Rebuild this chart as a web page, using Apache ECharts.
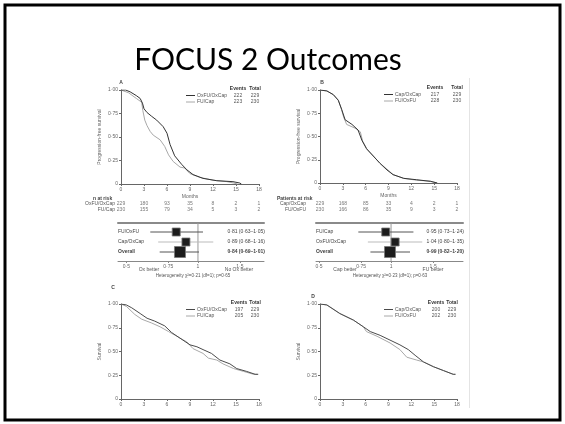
<!DOCTYPE html>
<html><head><meta charset="utf-8">
<script src="https://cdn.jsdelivr.net/npm/echarts@6/dist/echarts.min.js"></script>
<style>html,body{margin:0;padding:0;background:#fff}#c{width:565px;height:424px}</style>
</head><body><div id="c"></div>
<script>
// ---------- DATA ----------
const monthTicks = [0, 3, 6, 9, 12, 15, 18];
const hrTicks = [0.5, 0.75, 1, 1.5];
const hrTickLabels = ['0·5', '0·75', '1', '1·5'];

// A: progression-free survival, oxaliplatin comparison
const pfsA_ox = [[0,1],[0.6,1],[1.2,0.98],[2.0,0.94],[2.5,0.91],[2.8,0.86],[3.0,0.80],[3.4,0.76],[4.0,0.72],[4.65,0.68],[5.5,0.61],[6.0,0.54],[6.4,0.42],[7.0,0.30],[7.9,0.21],[8.6,0.15],[9.4,0.10],[10.7,0.06],[12.5,0.035],[14.6,0.025],[15.5,0.01],[15.7,0]];
const pfsA_fu = [[0,1],[1,0.97],[2,0.91],[2.7,0.87],[2.85,0.78],[3.1,0.68],[3.4,0.62],[3.8,0.56],[4.2,0.52],[5.1,0.47],[5.7,0.40],[6.2,0.31],[6.8,0.24],[7.7,0.18],[8.3,0.17],[9.0,0.11],[10.3,0.07],[12.0,0.04],[13.8,0.025],[14.7,0.01],[15.2,0]];
const legA_names = ['OxFU/OxCap', 'FU/Cap'];
const legA_events = [222, 223];
const legA_total = [229, 230];
const riskA_rows = ['OxFU/OxCap', 'FU/Cap'];
const riskA_ox = [229, 180, 93, 35, 8, 2, 1];
const riskA_fu = [230, 155, 79, 34, 5, 3, 2];

// B: progression-free survival, capecitabine comparison
const pfsB_cap = [[0,1],[0.9,0.99],[1.75,0.95],[2.4,0.89],[2.85,0.79],[3.3,0.68],[4.2,0.63],[5.0,0.57],[5.5,0.46],[6.1,0.37],[7.0,0.29],[7.9,0.21],[8.8,0.14],[9.6,0.09],[11,0.05],[12.7,0.035],[14.5,0.018],[15.4,0]];
const pfsB_fu = [[0,1],[0.9,0.99],[1.75,0.95],[2.4,0.89],[2.8,0.80],[3.1,0.71],[3.5,0.63],[4.6,0.59],[5.3,0.55],[5.6,0.45],[6.2,0.36],[7.0,0.29],[7.9,0.21],[8.8,0.15],[9.6,0.09],[11,0.05],[12.7,0.03],[14.5,0.02],[15.4,0]];
const legB_names = ['Cap/OxCap', 'FU/OxFU'];
const legB_events = [217, 228];
const legB_total = [229, 230];
const riskB_rows = ['Cap/OxCap', 'FU/OxFU'];
const riskB_cap = [229, 168, 85, 33, 4, 2, 1];
const riskB_fu = [230, 166, 86, 35, 9, 3, 2];

// Forest plots
const forestA_labels = ['FU/OxFU', 'Cap/OxCap', 'Overall'];
const forestA_hr = [0.81, 0.89, 0.84];
const forestA_lo = [0.63, 0.68, 0.69];
const forestA_hi = [1.05, 1.16, 1.01];
const forestA_notes = ['Ox better', 'No Ox better', 'Heterogeneity χ²=0·21 (df=1); p=0·65'];
const forestB_labels = ['FU/Cap', 'OxFU/OxCap', 'Overall'];
const forestB_hr = [0.95, 1.04, 0.99];
const forestB_lo = [0.73, 0.80, 0.82];
const forestB_hi = [1.24, 1.35, 1.20];
const forestB_notes = ['Cap better', 'FU better', 'Heterogeneity χ²=0·23 (df=1); p=0·63'];

// C: overall survival, oxaliplatin comparison
const osC_ox = [[0,1],[0.7,0.99],[1.4,0.96],[2.5,0.90],[3.4,0.85],[4.4,0.82],[5.7,0.77],[6.6,0.70],[7.7,0.64],[9.0,0.57],[9.9,0.55],[10.7,0.52],[11.8,0.48],[12.9,0.41],[14.2,0.37],[15.1,0.32],[16.4,0.29],[17.5,0.26],[17.9,0.26]];
const osC_fu = [[0,1],[0.7,0.975],[1.8,0.89],[2.7,0.84],[4.0,0.80],[5.1,0.76],[6.2,0.71],[7.3,0.66],[8.6,0.60],[9.4,0.53],[10.7,0.48],[11.4,0.43],[12.5,0.41],[13.3,0.37],[14.7,0.32],[16.0,0.29],[17.3,0.26],[17.8,0.26]];
const legC_names = ['OxFU/OxCap', 'FU/Cap'];
const legC_events = [197, 205];
const legC_total = [229, 230];

// D: overall survival, capecitabine comparison
const osD_cap = [[0,1],[0.9,0.99],[2.6,0.90],[4.4,0.83],[5.7,0.76],[6.6,0.71],[7.9,0.67],[9.2,0.62],[10.5,0.57],[11.6,0.52],[12.5,0.46],[13.6,0.39],[14.9,0.34],[16.2,0.30],[17.5,0.26],[17.8,0.26]];
const osD_fu = [[0,1],[0.9,0.99],[2.6,0.90],[4.4,0.83],[5.7,0.76],[6.1,0.71],[7.5,0.66],[9.2,0.59],[10.5,0.52],[11.4,0.44],[12.7,0.41],[13.6,0.39],[14.9,0.34],[16.2,0.30],[17.5,0.26],[17.8,0.26]];
const legD_names = ['Cap/OxCap', 'FU/OxFU'];
const legD_events = [200, 202];
const legD_total = [229, 230];

// ---------- HELPERS ----------
const FF = 'Liberation Sans';
const DARK = '#333', LIGHT = '#a8a8a8', AX = '#666';
const dot = v => v.toFixed(2).replace('.', '·');
const survFmt = v => v === 0 ? '0' : dot(v);

const g = [];
function T(x, y, text, o) {
  g.push({type: 'text', x: x, y: y, silent: true, z: 10,
    style: Object.assign({text: text, fontSize: 5, fontFamily: FF, fill: '#555',
      textAlign: 'left', textVerticalAlign: 'middle', align: 'left', verticalAlign: 'middle'}, o || {})});
}
function C(o) { o = o || {}; o.align = o.textAlign; return o; }

function legend(x0, yHead, names, events, totals, colors, evX, totX) {
  T(evX, yHead, 'Events', C({textAlign: 'center', fill: '#333', fontWeight: 'bold'}));
  T(totX, yHead, 'Total', C({textAlign: 'center', fill: '#333', fontWeight: 'bold'}));
  names.forEach((n, i) => {
    const y = yHead + 6.5 * (i + 1);
    g.push({type: 'line', silent: true, shape: {x1: x0, y1: y, x2: x0 + 9, y2: y}, style: {stroke: colors[i], lineWidth: 1}});
    T(x0 + 11, y, n);
    T(evX, y, String(events[i]), C({textAlign: 'center'}));
    T(totX, y, String(totals[i]), C({textAlign: 'center'}));
  });
}

const grids = [], xAxes = [], yAxes = [], series = [];
function addGrid(l, t, w, h) {
  grids.push({left: l, top: t, width: w, height: h, containLabel: false, outerBoundsMode: 'none'});
  return grids.length - 1;
}
function kmPanel(l, t, w, h, yName, xName, curves, colors) {
  const gi = addGrid(l, t, w, h);
  xAxes.push({gridIndex: gi, type: 'value', min: 0, max: 18, interval: 3,
    axisLine: {show: true, lineStyle: {color: AX, width: 1}},
    axisTick: {show: true, length: 2, lineStyle: {color: AX}},
    axisLabel: {fontSize: 5, color: AX, margin: 3, fontFamily: FF},
    splitLine: {show: false},
    name: xName, nameLocation: 'middle', nameGap: 10, nameTextStyle: {fontSize: 5, color: AX, fontFamily: FF}});
  yAxes.push({gridIndex: gi, type: 'value', min: 0, max: 1, interval: 0.25,
    axisLine: {show: true, lineStyle: {color: AX, width: 1}},
    axisTick: {show: true, length: 2, lineStyle: {color: AX}},
    axisLabel: {fontSize: 5, color: AX, margin: 3, fontFamily: FF, formatter: survFmt},
    splitLine: {show: false},
    name: yName, nameLocation: 'middle', nameGap: 19, nameTextStyle: {fontSize: 5, color: AX, fontFamily: FF}});
  curves.forEach((c, i) => series.push({type: 'line', xAxisIndex: xAxes.length - 1, yAxisIndex: yAxes.length - 1,
    data: c, symbol: 'none', silent: true, lineStyle: {color: colors[i], width: 1}, z: 3 - i}));
}
function riskPanel(l, t, w, rows) {
  const gi = addGrid(l, t, w, 12);
  xAxes.push({gridIndex: gi, type: 'value', min: 0, max: 18, show: false});
  yAxes.push({gridIndex: gi, type: 'value', min: -0.5, max: 1.5, inverse: true, show: false});
  const data = [];
  rows.forEach((r, ri) => r.forEach((v, k) => data.push([monthTicks[k], ri, v])));
  series.push({type: 'scatter', xAxisIndex: xAxes.length - 1, yAxisIndex: yAxes.length - 1,
    data: data, symbolSize: 0, silent: true,
    label: {show: true, position: 'inside', fontSize: 5, color: '#555', fontFamily: FF, formatter: p => String(p.value[2])}});
}
function forestPanel(l, t, w, h, xmin, xmax, labels, hr, lo, hi) {
  const gi = addGrid(l, t, w, h);
  const lnTicks = hrTicks.map(Math.log);
  const lab = v => { let k = 0, b = 1e9; lnTicks.forEach((tv, i) => { if (Math.abs(tv - v) < b) { b = Math.abs(tv - v); k = i; } }); return hrTickLabels[k]; };
  xAxes.push({gridIndex: gi, type: 'value', min: xmin, max: xmax, position: 'bottom',
    axisLine: {show: true, onZero: false, lineStyle: {color: '#888', width: 1}},
    axisTick: {show: true, length: 2, customValues: lnTicks, lineStyle: {color: '#888'}},
    axisLabel: {show: true, customValues: lnTicks, formatter: lab, fontSize: 5, color: AX, margin: 3, fontFamily: FF},
    splitLine: {show: false}});
  const xb = xAxes.length - 1;
  xAxes.push({gridIndex: gi, type: 'value', min: xmin, max: xmax, position: 'top',
    axisLine: {show: true, onZero: false, lineStyle: {color: '#8a8a8a', width: 2}},
    axisTick: {show: false}, axisLabel: {show: false}, splitLine: {show: false}});
  yAxes.push({gridIndex: gi, type: 'value', min: -0.9, max: 2.9, inverse: true, show: false});
  const yi = yAxes.length - 1;
  series.push({type: 'line', xAxisIndex: xb, yAxisIndex: yi, data: [[0, -0.9], [0, 2.9]], symbol: 'none', silent: true,
    lineStyle: {color: '#999', width: 1}, z: 1});
  const sizes = [8, 8, 11];
  const ciCol = ['#555', '#bbb', '#555'];
  series.push({type: 'custom', xAxisIndex: xb, yAxisIndex: yi, silent: true, z: 5,
    data: labels.map((lb, i) => [Math.log(hr[i]), i, Math.log(lo[i]), Math.log(hi[i])]),
    renderItem: (params, api) => {
      const i = params.dataIndex;
      const c = api.coord([api.value(0), api.value(1)]);
      const a = api.coord([api.value(2), api.value(1)]);
      const b = api.coord([api.value(3), api.value(1)]);
      const s = sizes[i];
      const cs = params.coordSys;
      const bold = i === 2 ? 'bold' : 'normal';
      return {type: 'group', children: [
        {type: 'line', shape: {x1: a[0], y1: a[1], x2: b[0], y2: b[1]}, style: {stroke: ciCol[i], lineWidth: 1}},
        {type: 'rect', shape: {x: c[0] - s / 2, y: c[1] - s / 2, width: s, height: s}, style: {fill: '#1c1c1c', stroke: '#777', lineWidth: 0.8}},
        {type: 'text', x: cs.x, y: c[1], style: {text: labels[i], fontSize: 5, fontFamily: FF, fontWeight: bold, fill: '#444', textAlign: 'left', align: 'left', textVerticalAlign: 'middle', verticalAlign: 'middle'}},
        {type: 'text', x: cs.x + cs.width + 1, y: c[1], style: {text: dot(hr[i]) + ' (' + dot(lo[i]) + '–' + dot(hi[i]) + ')', fontSize: 5, fontFamily: FF, fontWeight: bold, fill: '#444', textAlign: 'right', align: 'right', textVerticalAlign: 'middle', verticalAlign: 'middle'}}
      ]};
    }});
}

// ---------- LAYOUT ----------
kmPanel(121, 90, 138, 94, 'Progression-free survival', 'Months', [pfsA_ox, pfsA_fu], [DARK, LIGHT]);
kmPanel(320, 90, 137, 93, 'Progression-free survival', 'Months', [pfsB_cap, pfsB_fu], [DARK, LIGHT]);
riskPanel(121, 201, 138, [riskA_ox, riskA_fu]);
riskPanel(320, 201, 137, [riskB_cap, riskB_fu]);
forestPanel(118, 223, 146, 38, -0.775, 0.640, forestA_labels, forestA_hr, forestA_lo, forestA_hi);
forestPanel(316, 223, 147, 38, -0.722, 0.692, forestB_labels, forestB_hr, forestB_lo, forestB_hi);
kmPanel(121, 304, 138, 95, 'Survival', '', [osC_ox, osC_fu], ['#4a4a4a', LIGHT]);
kmPanel(320, 304, 137, 95, 'Survival', '', [osD_cap, osD_fu], ['#4a4a4a', LIGHT]);

// slide frame, title, faint image edge
g.push({type: 'rect', silent: true, z: 0, shape: {x: 5, y: 5, width: 555, height: 415}, style: {fill: 'none', stroke: '#000', lineWidth: 3}});
g.push({type: 'line', silent: true, z: 0, shape: {x1: 469.5, y1: 78, x2: 469.5, y2: 408}, style: {stroke: '#e4e4e4', lineWidth: 1}});
T(268, 60, 'FOCUS 2 Outcomes', C({textAlign: 'center', fontSize: 30, fontFamily: 'Lato', fill: '#000'}));

// panel letters
T(121, 83, 'A', C({textAlign: 'center', fontWeight: 'bold', fill: '#444'}));
T(322, 83, 'B', C({textAlign: 'center', fontWeight: 'bold', fill: '#444'}));
T(113, 288, 'C', C({textAlign: 'center', fontWeight: 'bold', fill: '#444'}));
T(313, 297, 'D', C({textAlign: 'center', fontWeight: 'bold', fill: '#444'}));

// legends
legend(186, 89, legA_names, legA_events, legA_total, [DARK, LIGHT], 238, 255);
legend(384, 88, legB_names, legB_events, legB_total, [DARK, LIGHT], 435, 457);
legend(186, 303, legC_names, legC_events, legC_total, ['#4a4a4a', LIGHT], 239, 255);
legend(384, 303, legD_names, legD_events, legD_total, ['#4a4a4a', LIGHT], 436, 452);

// number at risk labels
T(93, 199, 'n at risk', C({textAlign: 'left', fontWeight: 'bold', fill: '#444'}));
riskA_rows.forEach((r, i) => T(115, 204 + 6 * i, r, C({textAlign: 'right'})));
T(277, 199, 'Patients at risk', C({textAlign: 'left', fontWeight: 'bold', fill: '#444'}));
riskB_rows.forEach((r, i) => T(306, 204 + 6 * i, r, C({textAlign: 'right'})));

// forest notes
T(149, 270, forestA_notes[0], C({textAlign: 'center'}));
T(239, 270, forestA_notes[1], C({textAlign: 'center'}));
T(193, 276, forestA_notes[2], C({textAlign: 'center', fontSize: 4.5}));
T(345, 270, forestB_notes[0], C({textAlign: 'center'}));
T(433, 270, forestB_notes[1], C({textAlign: 'center'}));
T(390, 276, forestB_notes[2], C({textAlign: 'center', fontSize: 4.5}));

const chart = echarts.init(document.getElementById('c'), null, {renderer: 'canvas'});
chart.setOption({
  backgroundColor: '#fff',
  animation: false,
  grid: grids, xAxis: xAxes, yAxis: yAxes, series: series,
  graphic: {elements: g}
});
</script>
</body></html>
